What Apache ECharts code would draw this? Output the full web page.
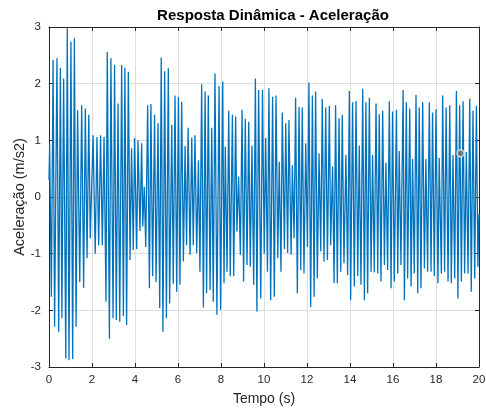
<!DOCTYPE html>
<html><head><meta charset="utf-8">
<script src="https://cdn.jsdelivr.net/npm/echarts@6/dist/echarts.min.js"></script>
<style>html,body{margin:0;padding:0;background:#fff}#c{width:486px;height:411px}</style>
</head><body><div id="c"></div>
<script>
const titleText = "Resposta Dinâmica - Aceleração";
const xLabel = "Tempo (s)";
const yLabel = "Aceleração (m/s2)";
const xTicks = [0,2,4,6,8,10,12,14,16,18,20];
const yTicks = [-3,-2,-1,0,1,2,3];
// time (s) of each extremum
const tempo = [0,0.03,0.11,0.19,0.26,0.37,0.45,0.53,0.60,0.68,0.78,0.85,0.93,1.02,1.10,1.18,1.26,1.33,1.43,1.52,1.61,1.69,1.77,1.85,1.92,
2.05,2.15,2.23,2.31,2.40,2.48,2.56,2.65,2.71,2.81,2.88,2.98,3.05,3.13,3.21,3.29,3.38,3.46,3.53,3.61,3.69,3.77,3.84,3.92,3.98,
4.08,4.14,4.23,4.31,4.36,4.43,4.50,4.59,4.67,4.74,4.82,4.91,4.98,5.07,5.15,5.22,5.30,5.38,5.46,5.55,5.61,5.71,5.78,5.86,5.94,
6.02,6.09,6.17,6.25,6.33,6.40,6.47,6.56,6.64,6.71,6.79,6.87,6.95,7.02,7.10,7.18,7.26,7.33,7.41,7.49,7.57,7.64,7.72,7.81,7.91,7.98,
8.08,8.14,8.20,8.28,8.36,8.43,8.53,8.59,8.68,8.74,8.82,8.90,8.98,9.05,9.13,9.21,9.29,9.36,9.44,9.52,9.60,9.67,9.75,9.85,9.93,
10.01,10.08,10.16,10.23,10.31,10.40,10.48,10.56,10.64,10.71,10.79,10.85,10.95,11.01,11.10,11.16,11.26,11.32,11.40,11.47,11.55,11.63,11.71,11.78,11.86,11.94,
12.02,12.09,12.17,12.25,12.33,12.40,12.48,12.56,12.64,12.71,12.79,12.87,12.95,13.04,13.10,13.19,13.26,13.33,13.41,13.49,13.57,13.64,13.72,13.81,13.89,13.97,
14.03,14.12,14.20,14.28,14.36,14.43,14.51,14.59,14.67,14.74,14.82,14.90,14.98,15.05,15.13,15.21,15.29,15.36,15.44,15.52,15.60,15.67,15.75,15.83,15.91,15.98,
16.06,16.16,16.22,16.29,16.37,16.47,16.53,16.62,16.68,16.78,16.84,16.91,16.99,17.07,17.15,17.22,17.30,17.38,17.46,17.53,17.61,17.69,17.77,17.84,17.92,
18.00,18.09,18.15,18.25,18.31,18.40,18.47,18.56,18.64,18.71,18.79,18.87,18.95,19.02,19.10,19.18,19.26,19.33,19.41,19.49,19.57,19.64,19.72,19.80,19.88,19.95,20.00];
// acceleration (m/s2) at each of those times
const aceleracao = [0.3,0.92,-1.76,2.42,-2.29,2.45,-2.38,2.28,-2.14,2.09,-2.85,2.98,-2.88,2.74,-2.86,2.8,-2.29,1.53,-1.5,1.62,-1.6,1.56,-1.08,1.45,-0.73,
1.09,-1.0,1.06,-0.85,1.09,-0.85,1.06,-1.85,2.56,-2.5,2.45,-2.14,2.33,-2.17,1.65,-2.2,2.33,-2.1,2.28,-2.26,2.21,-1.11,0.86,-0.94,1.04,
-0.92,1.0,-0.6,0.95,-0.52,0.18,-0.88,1.62,-1.61,1.64,-1.4,1.45,-1.5,1.3,-1.96,2.46,-2.38,2.22,-2.14,2.27,-1.88,1.27,-1.53,1.79,-1.67,
1.77,-1.55,1.68,-1.14,0.9,-0.85,1.22,-1.02,1.05,-0.85,1.09,-0.99,0.65,-1.32,1.99,-1.95,1.86,-1.7,1.79,-1.64,1.22,-1.85,2.18,-2.08,1.96,-1.99,
2.04,-1.52,0.89,-1.32,1.52,-1.4,1.45,-1.4,1.42,-0.61,0.36,-1.02,1.54,-1.49,1.38,-1.2,1.33,-1.23,0.91,-1.55,2.09,-2.02,1.89,-1.79,1.89,
-1.0,1.04,-1.32,1.92,-1.82,1.77,-1.76,1.79,-1.08,0.62,-1.32,1.49,-0.92,1.3,-0.99,1.36,-1.02,0.56,-0.73,1.75,-1.7,1.59,-1.29,1.58,-1.35,0.95,
-0.88,2.02,-1.94,1.79,-1.76,1.86,-1.44,0.77,-0.96,1.73,-1.14,1.58,-1.11,1.61,-0.85,0.54,-1.52,1.62,-1.52,1.39,-1.32,1.45,-1.17,0.74,-1.38,1.87,
-1.82,1.67,-1.58,1.69,-1.4,0.91,-1.55,1.91,-1.82,1.67,-1.7,1.75,-1.32,0.74,-1.33,1.65,-1.35,1.46,-1.49,1.52,-1.2,0.61,-1.29,1.69,-1.61,1.51,
-1.49,1.54,-1.35,0.81,-1.2,1.89,-1.82,1.67,-1.44,1.56,-1.58,0.67,-1.35,1.8,-1.7,1.58,-1.61,1.67,-1.26,0.67,-1.32,1.67,-1.32,1.49,-1.4,
1.55,-1.52,0.69,-1.35,1.79,-1.32,1.58,-1.49,1.62,-1.52,0.74,-1.44,1.87,-1.79,1.62,-1.49,1.69,-1.35,0.8,-1.35,1.74,-1.67,1.52,-1.44,1.61,-1.23,-0.3];
// data tip marker
const dataTip = [19.14, 0.77];

const seriesData = tempo.map((t, i) => [t, aceleracao[i]]);
const font = "'Liberation Sans', Arial, sans-serif";
const axisCol = '#262626';
const chart = echarts.init(document.getElementById('c'), null, {renderer: 'canvas'});
const baseX = {
  type: 'value', min: xTicks[0], max: xTicks[xTicks.length-1], interval: 2,
  axisLine: {show: true, onZero: false, lineStyle: {color: axisCol, width: 1}},
  axisTick: {show: true, inside: true, length: 4, lineStyle: {color: axisCol}},
  splitLine: {show: false}
};
const baseY = {
  type: 'value', min: yTicks[0], max: yTicks[yTicks.length-1], interval: 1,
  axisLine: {show: true, onZero: false, lineStyle: {color: axisCol, width: 1}},
  axisTick: {show: true, inside: true, length: 4, lineStyle: {color: axisCol}},
  splitLine: {show: false}
};
chart.setOption({
  animation: false,
  backgroundColor: '#fff',
  title: {text: titleText, left: 268, textAlign: 'center', top: 3,
    textStyle: {fontFamily: font, fontSize: 15, fontWeight: 'bold', color: '#000'}},
  grid: {left: 49, right: 7, top: 27, bottom: 44, containLabel: false, outerBoundsMode: 'none'},
  xAxis: [
    Object.assign({}, baseX, {position: 'bottom', name: xLabel, nameLocation: 'middle', nameGap: 25,
      nameMoveOverlap: false,
      nameTextStyle: {fontFamily: font, fontSize: 14, color: axisCol},
      axisLabel: {show: true, margin: 7, fontFamily: font, fontSize: 11.5, color: axisCol},
      splitLine: {show: true, lineStyle: {color: '#dedede', width: 1}}}),
    Object.assign({}, baseX, {position: 'top', axisLabel: {show: false}})
  ],
  yAxis: [
    Object.assign({}, baseY, {position: 'left', name: yLabel, nameLocation: 'middle', nameGap: 22,
      nameMoveOverlap: false,
      nameTextStyle: {fontFamily: font, fontSize: 14.5, color: axisCol},
      axisLabel: {show: true, margin: 8, fontFamily: font, fontSize: 11.5, color: axisCol},
      splitLine: {show: true, lineStyle: {color: '#dedede', width: 1}}}),
    Object.assign({}, baseY, {position: 'right', axisLabel: {show: false}})
  ],
  series: [
    {type: 'line', data: seriesData, showSymbol: false, symbol: 'none',
     lineStyle: {color: '#0072BD', width: 1.3}, clip: true, z: 3},
    {type: 'scatter', data: [dataTip], symbol: 'circle', symbolSize: 7,
     itemStyle: {color: '#6e6e6e', borderColor: '#f2f0d0', borderWidth: 1.5}, z: 5}
  ]
});
</script></body></html>
